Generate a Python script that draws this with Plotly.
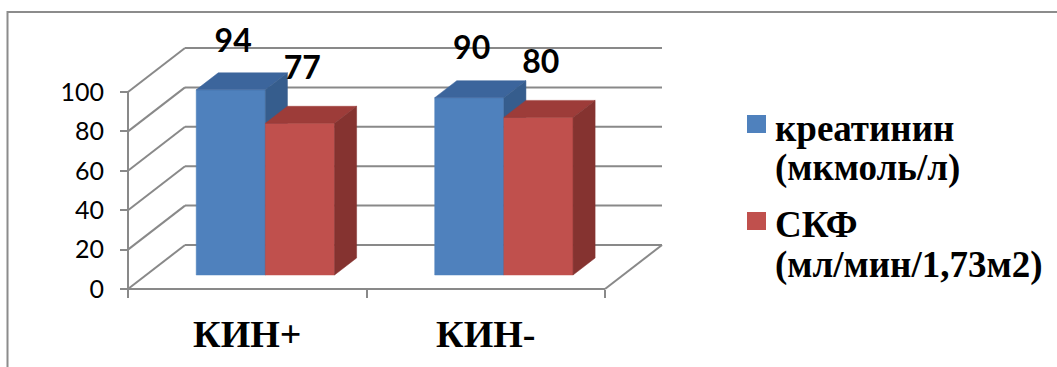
import plotly.graph_objects as go

# ---- data -------------------------------------------------------------
categories = ["КИН+", "КИН-"]
series_names = ["креатинин (мкмоль/л)", "СКФ (мл/мин/1,73м2)"]
legend_lines = [["креатинин", "(мкмоль/л)"], ["СКФ", "(мл/мин/1,73м2)"]]
creatinine = [94, 90]
gfr = [77, 80]
y_ticks = [0, 20, 40, 60, 80, 100]

values = [creatinine, gfr]

# ---- style / 3-D projection -------------------------------------------
W, H = 1057, 367
PX_CAT = 238.5          # pixels per category on the front floor line
PX_VAL = 1.97           # pixels per value unit on the front wall
ORIGIN_PX = (128, 289)  # front-left corner of the floor
DEPTH = (57 / PX_CAT, 44 / PX_VAL)   # wall depth vector in data units
F_FRONT, F_BACK = 0.318, 0.705       # bar depth slab within the box
BAR_W = 0.29
GAP_LEFT = (1 - 2 * BAR_W) / 2
LABEL_LIFT = [23.5, 26.5]            # value-label lift above each series' bar

SERIF = "'Liberation Serif', 'Times New Roman', Times, serif"
SANS = "Lato, 'Open Sans', sans-serif"

GRID = "#898989"
FACE = [("#4F81BD", "#3C659C", "#365D8D"), ("#C0504D", "#9D3C39", "#853330")]

x_range = [-ORIGIN_PX[0] / PX_CAT, (W - ORIGIN_PX[0]) / PX_CAT]
y_range = [-(H - ORIGIN_PX[1]) / PX_VAL, ORIGIN_PX[1] / PX_VAL]

fig = go.Figure()


def line(xs, ys, width=2):
    fig.add_trace(go.Scatter(x=xs, y=ys, mode="lines", showlegend=False,
                             hoverinfo="skip",
                             line=dict(color=GRID, width=width)))


def poly(xs, ys, color):
    fig.add_trace(go.Scatter(x=xs + [xs[0]], y=ys + [ys[0]], mode="lines",
                             fill="toself", fillcolor=color, showlegend=False,
                             hoverinfo="skip", line=dict(color=color, width=0.5)))


n = len(categories)
dx, dy = DEPTH

# back wall gridlines and side wall diagonals
for v in y_ticks:
    line([dx, n + dx], [v + dy, v + dy])
    line([0, dx], [v, v + dy])

# floor: front edge and right edge
line([0, n], [0, 0])
line([n, n + dx], [0, dy])
# front value axis
line([0, 0], [0, y_ticks[-1]])

# bars
for i in range(n):
    for s, vals in enumerate(values):
        v = vals[i]
        front, top, side = FACE[s]
        x0 = i + GAP_LEFT + s * BAR_W
        x1 = x0 + BAR_W
        fx, fy = F_FRONT * dx, F_FRONT * dy
        bx, by = F_BACK * dx, F_BACK * dy
        # front face
        poly([x0 + fx, x1 + fx, x1 + fx, x0 + fx], [fy, fy, v + fy, v + fy], front)
        # top face
        poly([x0 + fx, x1 + fx, x1 + bx, x0 + bx],
             [v + fy, v + fy, v + by, v + by], top)
        # right side face
        poly([x1 + fx, x1 + bx, x1 + bx, x1 + fx],
             [fy, by, v + by, v + fy], side)

# value labels above the bars
lab_x, lab_y, lab_t = [], [], []
for i in range(n):
    for s, vals in enumerate(values):
        v = vals[i]
        lab_x.append(i + GAP_LEFT + s * BAR_W + BAR_W / 2 + F_FRONT * dx + 0.01)
        lab_y.append(v + F_FRONT * dy + LABEL_LIFT[s])
        lab_t.append(f"<b>{v}</b>")
fig.add_trace(go.Scatter(x=lab_x, y=lab_y, text=lab_t, mode="text",
                         textposition="middle center", showlegend=False,
                         hoverinfo="skip",
                         textfont=dict(family=SANS, size=32, color="#000000")))

# legend (squares + bold serif captions)
leg_sq_x = 756.5 / W
leg_sq_y = [1 - 124 / H, 1 - 221 / H]
leg_text_y = [[1 - 128 / H, 1 - 168 / H], [1 - 225 / H, 1 - 265 / H]]
shapes = []
annotations = []
for s in range(len(series_names)):
    half_w, half_h = 9.5 / W, 9 / H
    shapes.append(dict(type="rect", xref="paper", yref="paper",
                       x0=leg_sq_x - half_w, x1=leg_sq_x + half_w,
                       y0=leg_sq_y[s] - half_h, y1=leg_sq_y[s] + half_h,
                       fillcolor=FACE[s][0], line=dict(width=0)))
    for k, txt in enumerate(legend_lines[s]):
        annotations.append(dict(xref="paper", yref="paper", x=773 / W,
                                y=leg_text_y[s][k], xanchor="left",
                                yanchor="middle", showarrow=False,
                                text=f"<b>{txt}</b>",
                                font=dict(family=SERIF, size=37, color="#000000")))

# outer chart border
shapes.append(dict(type="rect", xref="paper", yref="paper",
                   x0=7.5 / W, x1=1.05, y0=-0.05, y1=1 - 12 / H,
                   line=dict(color="#8C8C8C", width=2), fillcolor="rgba(0,0,0,0)",
                   layer="below"))

fig.update_layout(
    width=W, height=H,
    margin=dict(l=0, r=0, t=0, b=0),
    paper_bgcolor="white", plot_bgcolor="white",
    showlegend=False,
    shapes=shapes, annotations=annotations,
    xaxis=dict(range=x_range, domain=[0, 1], anchor="free",
               position=(H - ORIGIN_PX[1]) / H,
               showgrid=False, zeroline=False, showline=False,
               tickmode="array", tickvals=[i + 0.5 for i in range(n)],
               ticktext=[f"<b>{c}</b>" for c in categories], ticks="",
               ticklabelstandoff=19,
               tickfont=dict(family=SERIF, size=38, color="#000000"),
               minor=dict(tickmode="array", tickvals=list(range(n + 1)),
                          ticks="outside", ticklen=8, tickwidth=2,
                          tickcolor=GRID, showgrid=False)),
    yaxis=dict(range=y_range, domain=[0, 1], anchor="free",
               position=ORIGIN_PX[0] / W,
               showgrid=False, zeroline=False, showline=False,
               tickmode="array", tickvals=y_ticks, ticks="outside",
               ticklen=8, tickwidth=2, tickcolor=GRID,
               ticklabelstandoff=11,
               tickfont=dict(family=SANS, size=25, color="#000000")),
)

fig.write_html("out.html")
